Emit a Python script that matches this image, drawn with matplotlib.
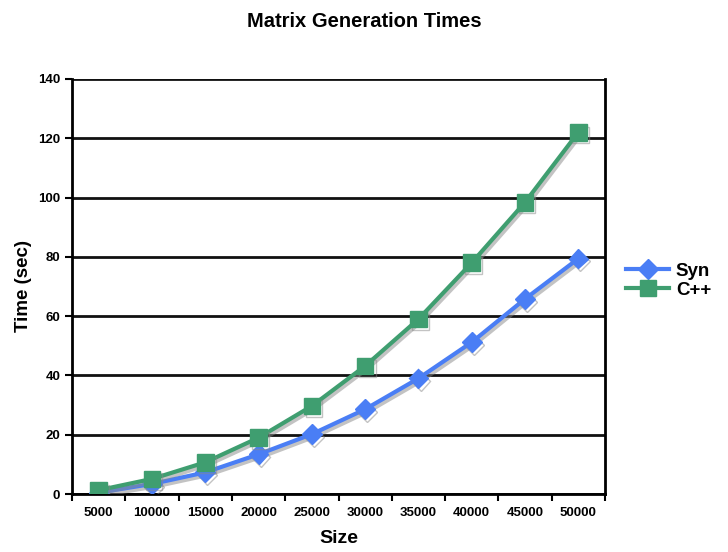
import matplotlib.pyplot as plt
import matplotlib.patheffects as pe
import numpy as np

plt.rcParams['font.family'] = ['Liberation Sans', 'DejaVu Sans']
plt.rcParams['font.weight'] = 'bold'

# 矩阵大小与生成时间（秒）
sizes = ['5000', '10000', '15000', '20000', '25000',
         '30000', '35000', '40000', '45000', '50000']
syn_times = [0.5, 3.4, 7.3, 13.4, 20.2, 28.6, 39.0, 51.2, 65.8, 79.4]
cpp_times = [1.3, 5.1, 10.7, 19.0, 29.7, 43.2, 59.0, 78.0, 98.4, 122.0]

fig = plt.figure(figsize=(7.28, 5.52), dpi=100)
ax = fig.add_axes([0.099, 0.105, 0.732, 0.752])

x = np.arange(len(sizes))
shadow = [pe.SimpleLineShadow(offset=(1.5, -2), shadow_color='#888888', alpha=0.5),
          pe.Normal()]
ax.plot(x, syn_times, color='#4a7ef5', lw=3, marker='D', ms=10,
        label='Syn', path_effects=shadow, zorder=3)
ax.plot(x, cpp_times, color='#3f9e70', lw=3, marker='s', ms=12,
        label='C++', path_effects=shadow, zorder=3)

ax.set_xlim(-0.5, len(sizes) - 0.5)
ax.set_ylim(0, 140)
ax.set_yticks(np.arange(0, 141, 20))
ax.yaxis.grid(True, color='#111111', lw=2)
ax.set_axisbelow(True)

# 类别刻度：标签居中，刻度线在类别之间
ax.set_xticks(x)
ax.set_xticklabels(sizes)
ax.set_xticks(np.arange(-0.5, len(sizes), 1), minor=True)
ax.tick_params(axis='x', which='major', length=0, pad=9, labelsize=9.5)
ax.tick_params(axis='x', which='minor', length=5, width=1.5)
ax.tick_params(axis='y', length=5, width=1.5, labelsize=9.5)

for side in ['left', 'right', 'bottom']:
    ax.spines[side].set_linewidth(2)
ax.spines['top'].set_visible(False)

ax.set_xlabel('Size', fontsize=14, fontweight='bold', labelpad=8)
ax.set_ylabel('Time (sec)', fontsize=13.5, fontweight='bold', labelpad=4)
fig.suptitle('Matrix Generation Times', x=0.5, y=0.978,
             fontsize=14.5, fontweight='bold')

leg = fig.legend(loc='center left', bbox_to_anchor=(0.837, 0.491), frameon=False,
                 fontsize=13.5, handlelength=2.3, handletextpad=0.35,
                 labelspacing=0.1)
for line in leg.get_lines():
    line.set_path_effects([])

fig.savefig('out.png', dpi=100)
